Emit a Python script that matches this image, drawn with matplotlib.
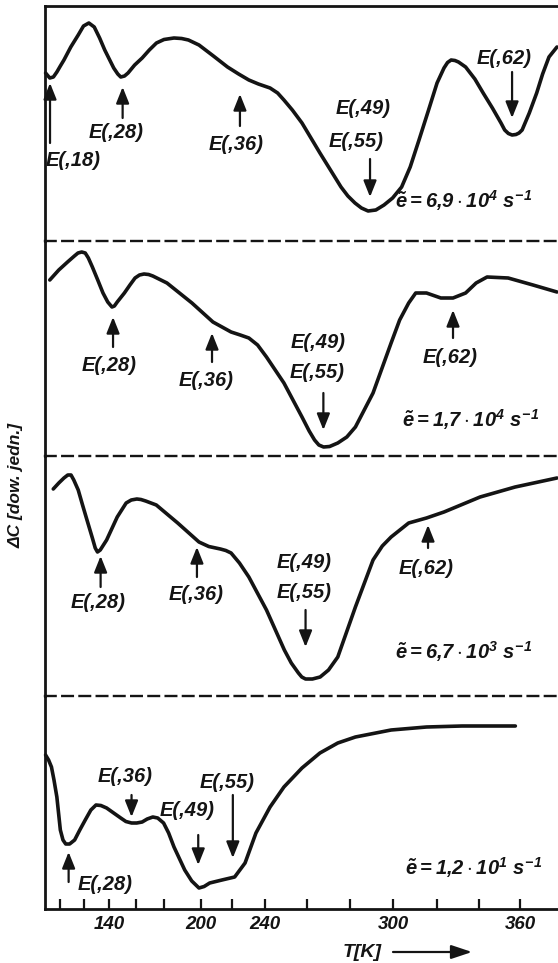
import numpy as np
import matplotlib
matplotlib.use("Agg")
import matplotlib.pyplot as plt

plt.rcParams['font.family'] = ['Liberation Sans', 'DejaVu Sans']
plt.rcParams['font.style'] = 'italic'
plt.rcParams['font.weight'] = 'bold'
plt.rcParams['mathtext.fontset'] = 'custom'
plt.rcParams['mathtext.rm'] = 'Liberation Sans:italic:bold'
plt.rcParams['mathtext.it'] = 'Liberation Sans:italic:bold'
plt.rcParams['mathtext.bf'] = 'Liberation Sans:italic:bold'

# ---- DLTS spectra, Delta C in arbitrary units vs temperature T [K] ----
T_1 = [88, 91.5, 94.5, 97.4, 100.3, 103.3, 109.0, 115.2, 119.6, 123.9, 128.2,
       132.5, 136.6, 143.5, 146.5, 148.7, 151.5, 154.1, 159.0, 164.4, 169.5,
       174.6, 180.0, 185.4, 189.5, 193.2, 198.9, 208.0, 217.1, 224.0, 230.2,
       236.0, 242.4, 246.0, 249.0, 253.0, 257.6, 266.0, 275.8, 279.0, 282.3,
       285.3, 288.4, 292.0, 295.8, 299.8, 303.9, 307.8, 311.8, 316.0, 320.0,
       323.3, 325.0, 326.7, 328.5, 330.2, 333.6, 338.0, 342.0, 346.5, 350.7,
       352.5, 354.3, 356.1, 358.0, 359.5, 361.0, 364.5, 368.1, 371.0, 374.1,
       378.0]
dC_1 = [16.8, 16.3, 16.4, 16.9, 17.5, 18.1, 19.4, 20.6, 21.5, 21.8, 21.4,
        20.3, 19.1, 17.3, 16.7, 16.4, 16.5, 16.8, 17.6, 18.3, 19.1,
        19.8, 20.15, 20.3, 20.25, 20.1, 19.6, 18.5, 17.4, 16.7, 16.1,
        15.7, 15.3, 14.8, 14.1, 13.1, 11.8, 8.8, 5.4, 4.5, 3.8,
        3.3, 3.0, 3.1, 3.6, 4.3, 5.4, 7.4, 10.1, 13.0, 15.8,
        17.3, 17.85, 18.1, 18.05, 17.9, 17.4, 16.2, 14.8, 13.3, 11.8,
        11.1, 10.75, 10.6, 10.65, 10.8, 11.1, 12.8, 14.8, 16.7, 18.4,
        19.4]

T_2 = [91.5, 99.0, 106.3, 112.0, 115.0, 118.1, 121.0, 123.5, 126.7, 131.0,
       135.2, 139.0, 142.2, 144.0, 146.1, 151.4, 155.5, 159.3, 162.5, 165.7,
       169.0, 172.0, 181.6, 195.1, 207.7, 219.4, 225.0, 230.2, 235.5, 240.7,
       249.0, 257.6, 261.0, 263.5, 265.5, 267.7, 270.5, 274.3, 278.5, 282.5,
       290.7, 299.1, 303.0, 307.1, 310.3, 315.2, 321.8, 327.6, 333.6, 338.6,
       343.9, 354.2, 366.3, 378.0]
dC_2 = [17.6, 18.6, 19.4, 20.0, 20.3, 20.4, 20.3, 19.8, 18.9, 17.6,
        16.3, 15.4, 14.9, 15.0, 15.4, 16.3, 17.1, 17.8, 18.1, 18.2,
        18.15, 18.0, 17.3, 15.3, 13.4, 12.4, 12.1, 11.8, 11.1, 9.9,
        7.3, 3.9, 2.5, 1.6, 1.1, 0.9, 0.95, 1.3, 1.9, 2.9,
        6.3, 11.3, 13.6, 15.3, 16.3, 16.3, 15.8, 15.8, 16.3, 17.3,
        17.9, 17.8, 17.1, 16.4]

T_3 = [94.4, 99.0, 103.3, 106.5, 109.2, 111.5, 115.2, 118.8, 122.4, 126.7,
       129.0, 130.8, 133.0, 138.1, 146.1, 152.7, 156.5, 160.6, 163.5, 166.9,
       174.5, 187.4, 198.9, 205.0, 212.5, 216.0, 219.4, 224.5, 230.2, 240.7,
       249.2, 252.5, 255.9, 257.5, 259.3, 262.5, 266.1, 270.0, 274.3, 282.5,
       290.7, 295.0, 299.1, 307.1, 315.2, 323.3, 340.5, 357.6, 378.0]
dC_3 = [20.7, 21.3, 21.8, 22.1, 22.1, 21.6, 20.6, 19.1, 17.6, 15.8,
        14.8, 14.4, 14.6, 15.6, 17.9, 19.3, 19.6, 19.7, 19.65, 19.5,
        19.1, 17.3, 15.4, 14.95, 14.7, 14.55, 14.3, 13.3, 11.9, 8.6,
        4.6, 3.3, 2.3, 1.9, 1.7, 1.7, 1.9, 2.6, 3.9, 8.9,
        13.6, 15.0, 15.9, 17.3, 17.8, 18.4, 19.9, 20.9, 21.8]

T_4 = [88.0, 90.5, 92.9, 95.0, 97.4, 100.3, 102.5, 104.8, 108.0, 112.2,
       116.5, 121.0, 125.5, 129.6, 133.5, 138.1, 148.7, 152.5, 156.7, 160.5,
       164.4, 168.0, 172.0, 175.5, 179.7, 182.5, 185.4, 191.2, 195.0, 198.9,
       202.0, 205.6, 213.5, 221.6, 227.9, 234.5, 242.4, 249.0, 257.6, 266.0,
       274.3, 282.5, 299.1, 315.2, 331.9, 357.7]
dC_4 = [15.4, 14.9, 14.2, 12.9, 11.2, 7.9, 6.9, 6.5, 6.5, 6.9,
        7.9, 8.9, 9.9, 10.4, 10.35, 10.1, 9.1, 8.75, 8.6, 8.6,
        8.7, 9.0, 9.2, 9.1, 8.6, 7.6, 6.2, 3.9, 2.8, 2.1,
        2.25, 2.6, 2.9, 3.2, 4.6, 7.6, 10.2, 12.2, 14.1, 15.6,
        16.6, 17.2, 17.9, 18.2, 18.3, 18.3]

rate_labels = [r'$\tilde{e}=6{,}9\cdot10^{4}\ s^{-1}$',
               r'$\tilde{e}=1{,}7\cdot10^{4}\ s^{-1}$',
               r'$\tilde{e}=6{,}7\cdot10^{3}\ s^{-1}$',
               r'$\tilde{e}=1{,}2\cdot10^{1}\ s^{-1}$']
rate_pos = [(300.9, 4.0), (304.1, 3.6), (300.9, 4.4), (305.5, 4.1)]

# level markers: (T, arrow tail, arrow tip)
arrows_1 = [(91.7, 9.8, 15.8), (150.1, 12.3, 15.4), (224.8, 11.5, 14.7),
            (289.3, 8.2, 4.4), (356.1, 16.9, 12.3)]
arrows_2 = [(143.0, 10.9, 13.9), (207.1, 9.4, 12.3), (267.6, 6.3, 2.6),
            (327.6, 11.8, 14.6)]
arrows_3 = [(133.3, 10.9, 14.0), (197.8, 11.9, 14.9), (259.3, 8.6, 4.9),
            (315.9, 14.8, 17.1)]
arrows_4 = [(107.2, 2.7, 5.7), (156.7, 11.4, 9.2), (198.5, 7.4, 4.4),
            (220.5, 11.4, 5.1)]

labels_1 = [('E(,18)', 110.8, 8.0), ('E(,28)', 145.6, 10.8), ('E(,36)', 222.7, 9.6),
            ('E(,49)', 286.3, 13.25), ('E(,55)', 283.0, 9.95), ('E(,62)', 352.4, 18.2)]
labels_2 = [('E(,28)', 140.0, 9.1), ('E(,36)', 203.2, 7.6), ('E(,49)', 265.1, 11.3),
            ('E(,55)', 264.7, 8.4), ('E(,62)', 326.2, 9.9)]
labels_3 = [('E(,28)', 131.2, 9.4), ('E(,36)', 197.3, 10.2), ('E(,49)', 258.6, 13.3),
            ('E(,55)', 258.6, 10.4), ('E(,62)', 315.0, 12.8)]
labels_4 = [('E(,28)', 136.8, 2.5), ('E(,36)', 151.9, 13.2), ('E(,49)', 192.4, 9.9),
            ('E(,55)', 216.8, 12.7)]

T_ticks = [100, 120, 140, 160, 180, 200, 220, 240, 260, 280, 300, 320, 340, 360]
T_ticklabels = ['', '', '140', '', '', '200', '', '240', '', '', '300', '', '', '360']

# non-uniform temperature scale of the recorder chart
scale_T = [40, 100, 120, 140, 160, 180, 200, 220, 240, 260, 280, 300, 320, 340, 360, 440]
scale_u = [-12, 60, 84, 109, 136, 164, 201, 232, 265, 307, 350, 393, 437, 479, 520, 684]


def t_forward(t):
    return np.interp(t, scale_T, scale_u)


def t_inverse(u):
    return np.interp(u, scale_u, scale_T)


W, H = 558, 963
fig = plt.figure(figsize=(W / 100, H / 100), dpi=100)
edges = [6, 241, 456, 696, 909]
x_left = 44.5
ink = '#141414'
fs = 14.5

series = [(T_1, dC_1), (T_2, dC_2), (T_3, dC_3), (T_4, dC_4)]
arrows = [arrows_1, arrows_2, arrows_3, arrows_4]
labels = [labels_1, labels_2, labels_3, labels_4]

for i in range(4):
    top, bot = edges[i], edges[i + 1]
    ax = fig.add_axes([x_left / W, 1 - bot / H, 1 - x_left / W, (bot - top) / H])
    ax.set_xscale('function', functions=(t_forward, t_inverse))
    ax.set_xlim(87.1, 378.5)
    ax.set_ylim(0, (bot - top) / 10)
    ax.set_facecolor('none')
    ax.set_yticks([])

    ax.spines['right'].set_visible(False)
    ax.spines['left'].set_linewidth(2.0)
    ax.spines['left'].set_color(ink)
    if i == 0:
        ax.spines['top'].set_linewidth(2.0)
        ax.spines['top'].set_color(ink)
    else:
        ax.spines['top'].set_visible(False)
    ax.xaxis.set_minor_locator(matplotlib.ticker.NullLocator())
    if i < 3:
        ax.spines['bottom'].set_linestyle((0, (4.5, 2.8)))
        ax.spines['bottom'].set_linewidth(1.7)
        ax.spines['bottom'].set_color(ink)
        ax.set_xticks([])
    else:
        ax.spines['bottom'].set_linewidth(2.0)
        ax.spines['bottom'].set_color(ink)
        ax.set_xticks(T_ticks)
        ax.set_xticklabels(T_ticklabels, fontsize=13.5)
        ax.tick_params(axis='x', direction='in', length=7.5, width=1.6,
                       color=ink, pad=5, labelcolor=ink)

    T, dC = series[i]
    ax.plot(T, dC, color=ink, lw=2.6, solid_capstyle='round',
            solid_joinstyle='round', clip_on=False)

    for (t, y0, y1) in arrows[i]:
        ax.annotate('', xy=(t, y1), xytext=(t, y0),
                    arrowprops=dict(arrowstyle='-|>,head_length=0.7,head_width=0.28',
                                    lw=1.6, color=ink, shrinkA=0, shrinkB=0,
                                    mutation_scale=14))
    for (txt, t, y) in labels[i]:
        ax.text(t, y, txt, ha='center', va='center', fontsize=fs, color=ink)

    rx, ry = rate_pos[i]
    ax.text(rx, ry, rate_labels[i], ha='left', va='center', fontsize=fs, color=ink)

fig.text(16 / W, 1 - 485 / H, r'ΔC [dow. jedn.]', rotation=90, ha='center',
         va='center', fontsize=12.5, color=ink)
fig.text(343 / W, 1 - 952 / H, 'T[K]', ha='left', va='center', fontsize=14, color=ink)
fig.add_artist(matplotlib.patches.FancyArrowPatch(
    (393 / W, 1 - 952 / H), (472 / W, 1 - 952 / H), transform=fig.transFigure,
    arrowstyle='-|>,head_length=0.9,head_width=0.3', lw=1.6, color=ink,
    mutation_scale=14, shrinkA=0, shrinkB=0))

fig.savefig('out.png', dpi=100, facecolor='white')
